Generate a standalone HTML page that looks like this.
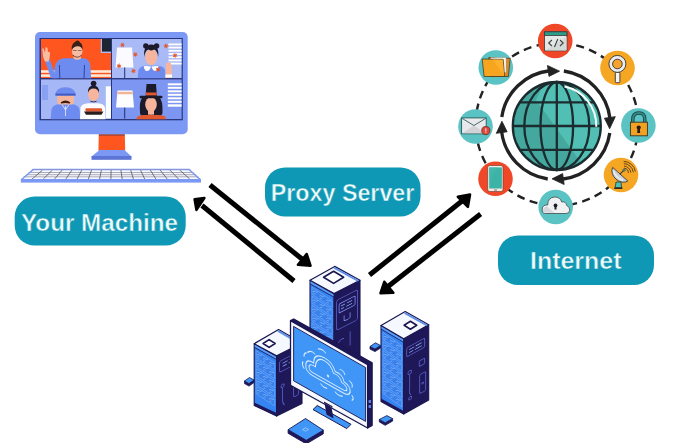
<!DOCTYPE html>
<html><head><meta charset="utf-8">
<style>
html,body{margin:0;padding:0;background:#fff;width:675px;height:443px;overflow:hidden}
svg{position:absolute;left:0;top:0;display:block}
.t{font-family:"Liberation Sans",sans-serif;font-weight:bold;fill:#effcfc;stroke:#0f98b5;stroke-width:0.5px}
</style></head><body>
<svg width="675" height="443" viewBox="0 0 675 443">
<!-- ============ LEFT MONITOR ============ -->
<g id="monitor">
  <rect x="35" y="32" width="152.7" height="102.3" rx="5" fill="#7b98f5"/>
  <rect x="39.5" y="38" width="143.3" height="82.3" fill="#28337a"/>
  <defs>
    <clipPath id="p1"><rect x="40.8" y="39" width="70.2" height="39.2"/></clipPath>
    <clipPath id="p2"><rect x="112" y="39" width="69.8" height="39.2"/></clipPath>
    <clipPath id="p3"><rect x="40.8" y="79.2" width="70.2" height="40"/></clipPath>
    <clipPath id="p4"><rect x="112" y="79.2" width="69.8" height="40"/></clipPath>
  </defs>
  <!-- panel 1 -->
  <g clip-path="url(#p1)">
    <rect x="40.8" y="39" width="70.2" height="39.2" fill="#ff5620"/>
    <rect x="100.8" y="39" width="10.5" height="14" fill="#aebcf5"/>
    <rect x="102" y="39" width="9.3" height="12.6" fill="#1b2634"/>
    <rect x="40.8" y="70.2" width="70.2" height="2.6" fill="#fde9d6"/>
    <rect x="40.8" y="74.3" width="70.2" height="2.6" fill="#fde9d6"/>
    <!-- man -->
    <path d="M53.5,80 L55,66 Q56.5,59 64,58.3 L84,58.3 Q89.8,59.3 90.4,66 L91.2,80 Z" fill="#6e8cf0"/>
    <path d="M45,60.5 L49.8,59.5 L57,80 L51.5,80 Z" fill="#6e8cf0"/>
    <path d="M42.5,51 Q41.5,47.5 43.5,48.5 L45,53 L45.5,47.5 Q47,46.5 47.5,48.5 L48,52.5 Q49.5,51 50,53 Q50,58 48.5,61.5 L45,61.5 Q42.5,57 42.5,51 Z" fill="#f6bda5"/>
    <path d="M73.5,58.5 L74,55 L80.5,55 L81,58.5 Q77.3,61 73.5,58.5 Z" fill="#f6bda5"/>
    <ellipse cx="77.2" cy="51.3" rx="5.2" ry="6.6" fill="#f6bda5"/>
    <path d="M72.8,55 Q77.2,59.5 81.6,55" stroke="#4a2a22" stroke-width="0.8" fill="none"/>
    <path d="M71.8,50 Q71,42.5 77,41.6 Q83.3,42 82.6,50 Q81.5,46.5 78,46.3 Q74,46 71.8,50 Z" fill="#3b2119"/>
    <circle cx="77.5" cy="42.6" r="2.2" fill="#3b2119"/>
    <path d="M72.8,50.5 h3.8 M77.8,50.5 h3.8" stroke="#6a4a40" stroke-width="0.7" fill="none"/>
    <path d="M59.4,65 L59.8,78 M84.5,65 L84,78" stroke="#2a3b8a" stroke-width="0.9" fill="none"/>
  </g>
  <!-- panel 2 -->
  <g clip-path="url(#p2)">
    <rect x="112" y="39" width="69.8" height="39.2" fill="#a9baf7"/>
    <g fill="#fdfdfe">
      <rect x="168.5" y="43.5" width="13.3" height="1.8"/><rect x="168.5" y="46.7" width="13.3" height="1.8"/>
      <rect x="168.5" y="49.9" width="13.3" height="1.8"/><rect x="168.5" y="53.1" width="13.3" height="1.8"/>
      <rect x="168.5" y="56.3" width="13.3" height="1.8"/><rect x="168.5" y="59.5" width="13.3" height="1.8"/>
      <rect x="168.5" y="62.7" width="13.3" height="1.8"/>
    </g>
    <path d="M117,47.5 L132,47.5 L133.5,67.5 L115.5,67.5 Z" fill="#fbfbff"/>
    <rect x="124.2" y="67.5" width="1" height="11" fill="#26306e"/>
    <path d="M137.5,80 L138.5,70 Q140,66 146,65.8 L157,65.8 Q164,66 165,70 L166,80 Z" fill="#6e8cf0"/>
    <ellipse cx="151.2" cy="57" rx="6" ry="8" fill="#f6b59c"/>
    <path d="M144.2,57 Q143,45.2 151.2,44.6 Q159.4,45.2 158.2,57 Q157.5,50.5 154,49.5 Q151.2,51.5 148.5,49.5 Q145,50.5 144.2,57 Z" fill="#1d1b2b"/>
    <circle cx="145.8" cy="46" r="2.7" fill="#1d1b2b"/>
    <circle cx="156.6" cy="46" r="2.7" fill="#1d1b2b"/>
    <path d="M143.8,66.2 Q147,65.5 151,66.5 Q149.5,71.5 146.5,71 Q144,70 143.8,66.2 Z" fill="#fdfdff"/>
    <path d="M158.6,66.2 Q155.4,65.5 151.4,66.5 Q152.9,71.5 155.9,71 Q158.4,70 158.6,66.2 Z" fill="#fdfdff"/>
    <path d="M165.5,78 L166,64 Q168,61 170.5,62.5 L172,68 L171.5,78 Z" fill="#f6b59c"/>
    <rect x="165.5" y="74.5" width="6.5" height="3" fill="#fff"/>
    <g fill="#e2582f">
      <polygon points="125.4,45.0 123.6,45.6 124.0,47.5 122.5,46.3 121.0,47.5 121.4,45.6 119.6,45.0 121.4,44.4 121.0,42.5 122.5,43.7 124.0,42.5 123.6,44.4"/>
      <polygon points="138.1,55.3 136.2,55.5 136.0,57.3 134.9,55.7 133.2,56.5 134.0,54.8 132.5,53.7 134.4,53.5 134.6,51.7 135.7,53.3 137.4,52.5 136.6,54.2"/>
      <polygon points="121.4,67.6 119.6,67.2 118.8,68.9 118.3,67.1 116.4,67.3 117.7,65.9 116.6,64.4 118.4,64.8 119.2,63.1 119.7,64.9 121.6,64.7 120.3,66.1"/>
      <polygon points="135.3,73.3 133.7,72.3 132.5,73.7 132.5,71.8 130.6,71.5 132.3,70.5 131.7,68.7 133.3,69.7 134.5,68.3 134.5,70.2 136.4,70.5 134.7,71.5"/>
      <polygon points="167.1,48.7 165.8,47.3 164.2,48.3 164.8,46.5 163.1,45.6 165.0,45.2 164.9,43.3 166.2,44.7 167.8,43.7 167.2,45.5 168.9,46.4 167.0,46.8"/>
      <polygon points="175.3,58.4 174.5,56.7 172.6,57.2 173.7,55.6 172.4,54.3 174.3,54.4 174.7,52.6 175.5,54.3 177.4,53.8 176.3,55.4 177.6,56.7 175.7,56.6"/>
      <polygon points="157.4,72.3 157.1,70.5 155.2,70.4 156.7,69.2 155.8,67.6 157.6,68.3 158.6,66.7 158.9,68.5 160.8,68.6 159.3,69.8 160.2,71.4 158.4,70.7"/>
    </g>
  </g>
  <!-- panel 3 -->
  <g clip-path="url(#p3)">
    <rect x="40.8" y="79.2" width="70.2" height="40" fill="#a6b7f6"/>
    <rect x="42" y="85" width="6" height="15" fill="#8aa0f2"/>
    <rect x="105.8" y="86.3" width="5.2" height="32" fill="#fbfcff"/>
    <path d="M50.5,120 L51.5,109 Q53,104.5 60,104.3 L71,104.3 Q78,104.5 79.5,109 L80.5,120 Z" fill="#6e8cf0"/>
    <path d="M62,104.5 L65.5,110 L69,104.5" stroke="#e8eeff" stroke-width="0.8" fill="none"/>
    <path d="M65.5,106 L65.5,116" stroke="#e8eeff" stroke-width="0.8"/>
    <rect x="57.2" y="93" width="16.8" height="11.5" rx="3" fill="#f6b59c"/>
    <path d="M55.2,95.5 Q55.5,87.5 65.5,87.3 Q75.5,87.5 75.8,95.5 Z" fill="#6e8cf0"/>
    <rect x="55.5" y="93.6" width="20" height="2" fill="#3f5bc4"/>
    <path d="M61,103 Q65.5,99.5 70,103 Q65.5,101.5 61,103 Z" stroke="#3a1d14" stroke-width="1.3" fill="#3a1d14"/>
    <path d="M80,120 L80.5,107.5 Q82,103.5 88,103.2 L98,103.2 Q104,103.5 105,107.5 L105.5,120 Z" fill="#fdfdff"/>
    <ellipse cx="93.5" cy="94" rx="5.6" ry="7" fill="#f6b59c"/>
    <path d="M88,93 Q87.5,85.5 93.5,85.5 Q99.5,85.5 99,93 Q98,88.5 93.5,88.5 Q89,88.5 88,93 Z" fill="#1d1b2b"/>
    <circle cx="93.6" cy="83.6" r="2.8" fill="#1d1b2b"/>
    <path d="M90.5,101.3 Q93.5,102.5 96.5,101.3" stroke="#1d1b2b" stroke-width="0.8" fill="none"/>
    <rect x="85.5" y="108.2" width="16.5" height="3.5" rx="1" fill="#e2582f"/>
    <path d="M84,111.5 L103.5,111.5 L101.5,114.8 L86,114.8 Z" fill="#2a1c1c"/>
  </g>
  <!-- panel 4 -->
  <g clip-path="url(#p4)">
    <rect x="112" y="79.2" width="69.8" height="40" fill="#7d96f1"/>
    <g fill="#fdfdfe">
      <rect x="167.8" y="83.3" width="14" height="2"/><rect x="167.8" y="86.8" width="14" height="2"/>
      <rect x="167.8" y="90.3" width="14" height="2"/><rect x="167.8" y="93.8" width="14" height="2"/>
      <rect x="167.8" y="97.3" width="14" height="2"/><rect x="167.8" y="100.8" width="14" height="2"/>
      <rect x="167.8" y="104.3" width="14" height="2.4"/>
    </g>
    <path d="M117.5,90.5 L132.5,90.5 L134,107.6 L116,107.6 Z" fill="#fdfdff"/>
    <rect x="117.4" y="91.8" width="15.3" height="2.4" fill="#f3b394"/>
    <rect x="124.2" y="107.6" width="1" height="11" fill="#26306e"/>
    <path d="M140,113 Q139,100 143,97 L159,97 Q163,100 162.5,113 Q162,116 158,116 L144,116 Q140,116 140,113 Z" fill="#1d1b2b"/>
    <rect x="148" y="108" width="6" height="8" fill="#f6b59c"/>
    <ellipse cx="151" cy="104.5" rx="5.8" ry="7.6" fill="#f6b59c"/>
    <path d="M148.5,114.5 Q151,116 153.5,114.5" stroke="#1d1b2b" stroke-width="0.6" fill="none"/>
    <path d="M145.5,98 L146.5,84 L156,84 L157,98 Z" fill="#1d1b2b"/>
    <rect x="145.7" y="92.5" width="11" height="3" fill="#e2582f"/>
    <rect x="139.5" y="95.8" width="23" height="2.4" rx="1.2" fill="#1d1b2b"/>
    <path d="M136,120 L137,117 Q139,115 144,115 L158,115 Q164,115 165.5,117 L166,120 Z" fill="#e2582f"/>
  </g>
</g>
<!-- stand -->
<polygon points="98.8,134.5 124.8,134.5 125.2,150.5 98.4,150.5" fill="#ff5620"/>
<rect x="98.8" y="134.4" width="26" height="1.1" fill="#6a3a4a"/>
<polygon points="99.5,150 124.5,150 131.5,156.5 91.5,156.5" fill="#7b98f5"/>
<rect x="91.5" y="156" width="40" height="3.8" fill="#5d74d6"/>
<!-- keyboard -->
<g id="kbd">
  <polygon points="32.8,169 189.5,169 201,179.2 20.8,179.2" fill="#f7f8ff"/>
  <line x1="28.7" y1="172.5" x2="193.4" y2="172.5" stroke="#8a8a95" stroke-width="0.7"/>
  <line x1="26.1" y1="174.7" x2="195.9" y2="174.7" stroke="#8a8a95" stroke-width="0.7"/>
  <line x1="23.6" y1="176.8" x2="198.3" y2="176.8" stroke="#8a8a95" stroke-width="0.7"/>
  <line x1="42.6" y1="170" x2="32.1" y2="179" stroke="#55555f" stroke-width="0.8"/>
  <line x1="52.4" y1="170" x2="43.3" y2="179" stroke="#55555f" stroke-width="0.8"/>
  <line x1="62.2" y1="170" x2="54.6" y2="179" stroke="#55555f" stroke-width="0.8"/>
  <line x1="72.0" y1="170" x2="65.8" y2="179" stroke="#55555f" stroke-width="0.8"/>
  <line x1="81.8" y1="170" x2="77.1" y2="179" stroke="#55555f" stroke-width="0.8"/>
  <line x1="91.6" y1="170" x2="88.4" y2="179" stroke="#55555f" stroke-width="0.8"/>
  <line x1="101.4" y1="170" x2="99.6" y2="179" stroke="#55555f" stroke-width="0.8"/>
  <line x1="111.1" y1="170" x2="110.9" y2="179" stroke="#55555f" stroke-width="0.8"/>
  <line x1="120.9" y1="170" x2="122.2" y2="179" stroke="#55555f" stroke-width="0.8"/>
  <line x1="130.7" y1="170" x2="133.4" y2="179" stroke="#55555f" stroke-width="0.8"/>
  <line x1="140.5" y1="170" x2="144.7" y2="179" stroke="#55555f" stroke-width="0.8"/>
  <line x1="150.3" y1="170" x2="155.9" y2="179" stroke="#55555f" stroke-width="0.8"/>
  <line x1="160.1" y1="170" x2="167.2" y2="179" stroke="#55555f" stroke-width="0.8"/>
  <line x1="169.9" y1="170" x2="178.5" y2="179" stroke="#55555f" stroke-width="0.8"/>
  <line x1="179.7" y1="170" x2="189.7" y2="179" stroke="#55555f" stroke-width="0.8"/>
  <polygon points="32.8,168.8 189.5,168.8 190.8,170.2 31.3,170.2" fill="#8595de"/>
  <polygon points="32.8,169 20.8,179.2 23,179.2 34,169.8" fill="#7b98f5"/>
  <polygon points="189.5,169 201,179.2 198.8,179.2 188.3,169.8" fill="#7b98f5"/>
  <rect x="20.8" y="179" width="180.2" height="3.6" fill="#7b98f5"/>
</g>

<!-- ============ PILLS ============ -->
<rect x="14.7" y="196.6" width="171" height="49" rx="20" fill="#0f98b5"/>
<text class="t" x="21" y="230.6" font-size="24.3" textLength="157" lengthAdjust="spacingAndGlyphs">Your Machine</text>
<rect x="265" y="167.5" width="155.5" height="49" rx="20" fill="#0f98b5"/>
<text class="t" x="270.8" y="201.2" font-size="24.3" textLength="143.5" lengthAdjust="spacingAndGlyphs">Proxy Server</text>
<rect x="498" y="235.5" width="156" height="49.5" rx="20" fill="#0f98b5"/>
<text class="t" x="530" y="269.2" font-size="24.3" textLength="91.5" lengthAdjust="spacingAndGlyphs">Internet</text>

<!-- ============ ARROWS ============ -->
<g stroke="#000" stroke-width="5" fill="none" stroke-linecap="butt">
  <line x1="210" y1="185" x2="302" y2="259"/>
  <line x1="294" y1="281" x2="202" y2="205.5"/>
  <line x1="369.5" y1="275" x2="462" y2="201"/>
  <line x1="480.6" y1="214" x2="388" y2="286.5"/>
</g>
<g fill="#000" stroke="#000" stroke-width="2.6" stroke-linejoin="round">
  <polygon points="306.69,254.04 297.98,264.72 310.47,265.71"/>
  <polygon points="194.63,199.29 204.36,198.02 196.45,209.88"/>
  <polygon points="470.01,194.50 457.84,196.80 467.88,206.84"/>
  <polygon points="380.52,293.16 384.30,281.82 393.34,292.75"/>
</g>

<!-- ============ GLOBE ============ -->
<g id="globe">
<circle cx="557" cy="124.3" r="81.3" fill="none" stroke="#222" stroke-width="2.4" stroke-dasharray="8 5.4"/>
<circle cx="556.8" cy="126" r="44" fill="#52bfb5"/>
<clipPath id="gclip"><circle cx="556.8" cy="126" r="44"/></clipPath>
<g clip-path="url(#gclip)"><polygon points="505,75 548,75 536,100 590,175 505,175" fill="#45a89f"/></g>
<g fill="none" stroke="#1b2b2e" stroke-width="2.3">
<circle cx="556.8" cy="126" r="44"/>
<line x1="519.73" y1="102.3" x2="593.87" y2="102.3"/>
<line x1="512.80" y1="126" x2="600.80" y2="126"/>
<line x1="519.79" y1="149.8" x2="593.81" y2="149.8"/>
<line x1="556.8" y1="82" x2="556.8" y2="170"/>
<ellipse cx="556.8" cy="126" rx="16.3" ry="44"/>
<ellipse cx="556.8" cy="126" rx="32.5" ry="44"/>
</g>
<path d="M564.49,86.44 A40,40 0 0 1 596.29,126.69" fill="none" stroke="#f4fffd" stroke-width="2"/>
<path d="M501.80,116.93 A54.6,54.6 0 0 1 549.62,70.75" fill="none" stroke="#222" stroke-width="3.3"/>
<polygon points="548.97,76.38 547.44,65.48 559.57,71.13" fill="#222" stroke="#222" stroke-width="0.8" stroke-linejoin="round"/>
<path d="M563.87,71.00 A54.6,54.6 0 0 1 610.05,118.82" fill="none" stroke="#222" stroke-width="3.3"/>
<polygon points="604.42,118.17 615.32,116.64 609.67,128.77" fill="#222" stroke="#222" stroke-width="0.8" stroke-linejoin="round"/>
<path d="M609.80,133.07 A54.6,54.6 0 0 1 561.98,179.25" fill="none" stroke="#222" stroke-width="3.3"/>
<polygon points="562.63,173.62 564.16,184.52 552.03,178.87" fill="#222" stroke="#222" stroke-width="0.8" stroke-linejoin="round"/>
<path d="M547.73,179.00 A54.6,54.6 0 0 1 501.55,131.18" fill="none" stroke="#222" stroke-width="3.3"/>
<polygon points="507.18,131.83 496.28,133.36 501.93,121.23" fill="#222" stroke="#222" stroke-width="0.8" stroke-linejoin="round"/>
</g>
<!-- icon circles -->
<g id="icons">
  <!-- 1 code window -->
  <g transform="translate(555.2,41)">
    <circle r="17.3" fill="#ef4727"/>
    <rect x="-10.6" y="-9.2" width="22.3" height="19" fill="#e4e9e7" stroke="#3b3b3b" stroke-width="0.8"/>
    <polygon points="-10.2,9.5 11.3,-4 11.3,9.5" fill="#d3dad8"/>
    <rect x="-10.6" y="-9.2" width="22.3" height="3.8" fill="#2d9c8b" stroke="#3b3b3b" stroke-width="0.8"/>
    <path d="M-3.3,-1 L-6.5,2 L-3.3,5 M4.8,-1 L8,2 L4.8,5 M2.6,-2 L-0.7,6" fill="none" stroke="#404040" stroke-width="1.1"/>
  </g>
  <!-- 2 magnifier -->
  <g transform="translate(617.5,68)">
    <circle r="17.3" fill="#f5a623"/>
    <rect x="-2.2" y="4.4" width="4.6" height="10.3" rx="1" fill="#f4f4f4" stroke="#333" stroke-width="0.9"/>
    <circle cx="-0.1" cy="-4.1" r="8.5" fill="#ececef" stroke="#333" stroke-width="0.9"/>
    <circle cx="-0.1" cy="-4" r="4.8" fill="#f5a32a" stroke="#333" stroke-width="0.9"/>
  </g>
  <!-- 3 lock -->
  <g transform="translate(638.4,125.5)">
    <circle r="17.3" fill="#5cc3c4"/>
    <path d="M-5.6,-3 L-5.6,-6 Q-5.6,-12.5 0.5,-12.5 Q6.4,-12.5 6.4,-6 L6.4,-3" fill="none" stroke="#213b3b" stroke-width="3.4"/>
    <path d="M-5.6,-3 L-5.6,-6 Q-5.6,-12.5 0.5,-12.5 Q6.4,-12.5 6.4,-6 L6.4,-3" fill="none" stroke="#2d8b87" stroke-width="1.8"/>
    <rect x="-8" y="-3.3" width="17" height="13.6" fill="#f2a223" stroke="#3a3322" stroke-width="0.9"/>
    <circle cx="0.3" cy="2" r="2.1" fill="#2a1a14"/>
    <path d="M-0.8,2.5 L1.4,2.5 L1.8,7.6 L-1.2,7.6 Z" fill="#2a1a14"/>
  </g>
  <!-- 4 satellite -->
  <g transform="translate(621,175)">
    <circle r="17.3" fill="#f5a623"/>
    <g fill="none" stroke="#6a4518" stroke-width="1" stroke-linecap="round">
      <path d="M3.6,-6.8 A4.5,4.5 0 0 1 7.4,-2.4"/>
      <path d="M3.4,-9 A7,7 0 0 1 9.8,-2.8"/>
      <path d="M3.2,-11.4 A9.3,9.3 0 0 1 12.2,-3.2"/>
      <path d="M3,-13.6 A11.5,11.5 0 0 1 14.3,-3.8"/>
    </g>
    <path d="M-5.8,12.8 L-5,7 L0,7 L0.6,12.8 Z" fill="#4cc1b5" stroke="#2c3a3a" stroke-width="0.8"/>
    <rect x="-6.8" y="12.4" width="8.2" height="1.6" fill="#2e2a26"/>
    <path d="M-8.3,-7.6 A10.3,7.8 42 0 0 6.8,6 Z" fill="#cfd1d8" stroke="#3a3a3a" stroke-width="0.9" stroke-linejoin="round"/>
    <path d="M-7.5,-4.5 A9,5.5 42 0 0 2,5.2" fill="none" stroke="#eceef2" stroke-width="1.4"/>
    <path d="M-1.3,-0.6 L2.8,-4.6" stroke="#3a3a3a" stroke-width="1.1"/>
    <circle cx="3.1" cy="-5" r="1.2" fill="#4cc1b5" stroke="#333" stroke-width="0.6"/>
  </g>
  <!-- 5 cloud -->
  <g transform="translate(555.7,207)">
    <circle r="17.3" fill="#5cc3c4"/>
    <path d="M-10,6.5 Q-14,6.5 -13.5,2 Q-13,-2.5 -8,-2 Q-8,-9.5 -1,-10 Q4.5,-10 6,-5 Q10,-6 11,-1.5 Q14.5,0 14,3.5 Q13.5,6.5 10.5,6.5 Z" fill="#f1f1f4" stroke="#3f4a4a" stroke-width="0.8"/>
    <path d="M-12.6,5.3 Q-13.5,1 -9,-0.8 L-1,6 Z" fill="#d6d7dd"/>
    <circle cx="-0.2" cy="-1.5" r="1.9" fill="#1f1f22"/>
    <path d="M-1,-1 L0.6,-1 L0.8,2.6 L-1.2,2.6 Z" fill="#1f1f22"/>
  </g>
  <!-- 6 phone -->
  <g transform="translate(495.5,178.8)">
    <circle r="17.3" fill="#ef4727"/>
    <rect x="-7.8" y="-13.3" width="15.3" height="26" rx="2" fill="#f6e9e2" stroke="#5b3a30" stroke-width="0.6"/>
    <rect x="-6.3" y="-11.4" width="12.7" height="21.1" fill="#3bb3a6"/>
    <polygon points="-6.3,-11.4 2,-11.4 -6.3,2" fill="#47b9ae" opacity="0.7"/>
    <rect x="-1.5" y="10.6" width="3" height="1.3" fill="#9a8a88"/>
  </g>
  <!-- 7 mail -->
  <g transform="translate(475.5,126.5)">
    <circle r="17.3" fill="#5cc3c4"/>
    <rect x="-13.9" y="-8.6" width="24.6" height="15.9" fill="#e9e9ec" stroke="#1f5a58" stroke-width="0.9"/>
    <polygon points="-13.4,6.8 -1.6,-1 10.2,6.8" fill="#d2d2d7"/>
    <path d="M-13.4,-8.1 L-1.6,-1 L10.2,-8.1" fill="none" stroke="#2f5f5d" stroke-width="0.9"/>
    <circle cx="10.3" cy="4.1" r="4.1" fill="#e0463a" stroke="#5a2520" stroke-width="0.7"/>
    <rect x="9.9" y="1.8" width="0.9" height="3.2" fill="#fff"/>
    <rect x="9.9" y="5.7" width="0.9" height="0.9" fill="#fff"/>
  </g>
  <!-- 8 folder -->
  <g transform="translate(495.8,67.5)">
    <circle r="17.3" fill="#5cc3c4"/>
    <path d="M-7,-10 L-1,-10 L0,-9.2 L14.4,-9.2 L12.6,9 L-6,9 Z" fill="#d98b2b" stroke="#4a3a22" stroke-width="0.8"/>
    <rect x="-5" y="-10" width="15.3" height="15" fill="#f8f4ec" stroke="#9a8a70" stroke-width="0.4"/>
    <path d="M-13.6,-8.5 L7.4,-8.1 L8.7,9 L-11.7,9 Z" fill="#f7a51f" stroke="#4a3a22" stroke-width="0.8"/>
    <polygon points="-3,-7.9 7,-7.7 8.2,8.5" fill="#fbb12e"/>
</g>
</g>

<!-- ============ SERVERS ============ -->
<g id="servers">
<polygon points="310.0,280.3 334.1,293.6 334.1,403.6 310.0,390.3" fill="#3584f1" stroke="#1a1650" stroke-width="1.1" stroke-linejoin="round"/>
<polygon points="334.1,293.6 360.0,280.3 360.0,356.3 334.1,403.6" fill="#1f1858" stroke="#1a1650" stroke-width="1.1" stroke-linejoin="round"/>
<polygon points="310.0,387.3 334.1,400.6 334.1,403.6 310.0,390.3" fill="#1f1858"/>
<polygon points="310.6,281.1 333.5,294.4 333.5,296.8 310.6,283.5" fill="#5b9cf6"/>
<line x1="310" y1="283.90000000000003" x2="334.1" y2="297.20000000000005" stroke="#1a1650" stroke-width="0.8"/>
<polygon points="312.0,287.3 332.1,300.6 332.1,307.6 312.0,294.3" fill="#3a80ea" stroke="#7fb4ff" stroke-width="0.6" opacity="0.9"/>
<path d="M312.9,291.7 q1.2,-1.2 2.5,0 t2.5,0 M313.4,294.1 q1,-1 2,0" fill="none" stroke="#9cc8ff" stroke-width="0.6"/>
<path d="M319.6,296.2 q1.2,-1.2 2.5,0 t2.5,0 M320.1,298.6 q1,-1 2,0" fill="none" stroke="#9cc8ff" stroke-width="0.6"/>
<path d="M326.2,300.6 q1.2,-1.2 2.5,0 t2.5,0 M326.8,303.0 q1,-1 2,0" fill="none" stroke="#9cc8ff" stroke-width="0.6"/>
<polygon points="312.0,296.3 332.1,309.6 332.1,316.6 312.0,303.3" fill="#3a80ea" stroke="#7fb4ff" stroke-width="0.6" opacity="0.9"/>
<path d="M312.9,300.7 q1.2,-1.2 2.5,0 t2.5,0 M313.4,303.1 q1,-1 2,0" fill="none" stroke="#9cc8ff" stroke-width="0.6"/>
<path d="M319.6,305.2 q1.2,-1.2 2.5,0 t2.5,0 M320.1,307.6 q1,-1 2,0" fill="none" stroke="#9cc8ff" stroke-width="0.6"/>
<path d="M326.2,309.6 q1.2,-1.2 2.5,0 t2.5,0 M326.8,312.0 q1,-1 2,0" fill="none" stroke="#9cc8ff" stroke-width="0.6"/>
<polygon points="312.0,305.3 332.1,318.6 332.1,325.6 312.0,312.3" fill="#3a80ea" stroke="#7fb4ff" stroke-width="0.6" opacity="0.9"/>
<path d="M312.9,309.7 q1.2,-1.2 2.5,0 t2.5,0 M313.4,312.1 q1,-1 2,0" fill="none" stroke="#9cc8ff" stroke-width="0.6"/>
<path d="M319.6,314.2 q1.2,-1.2 2.5,0 t2.5,0 M320.1,316.6 q1,-1 2,0" fill="none" stroke="#9cc8ff" stroke-width="0.6"/>
<path d="M326.2,318.6 q1.2,-1.2 2.5,0 t2.5,0 M326.8,321.0 q1,-1 2,0" fill="none" stroke="#9cc8ff" stroke-width="0.6"/>
<polygon points="312.0,314.3 332.1,327.6 332.1,334.6 312.0,321.3" fill="#3a80ea" stroke="#7fb4ff" stroke-width="0.6" opacity="0.9"/>
<path d="M312.9,318.7 q1.2,-1.2 2.5,0 t2.5,0 M313.4,321.1 q1,-1 2,0" fill="none" stroke="#9cc8ff" stroke-width="0.6"/>
<path d="M319.6,323.2 q1.2,-1.2 2.5,0 t2.5,0 M320.1,325.6 q1,-1 2,0" fill="none" stroke="#9cc8ff" stroke-width="0.6"/>
<path d="M326.2,327.6 q1.2,-1.2 2.5,0 t2.5,0 M326.8,330.0 q1,-1 2,0" fill="none" stroke="#9cc8ff" stroke-width="0.6"/>
<polygon points="312.0,323.3 332.1,336.6 332.1,343.6 312.0,330.3" fill="#3a80ea" stroke="#7fb4ff" stroke-width="0.6" opacity="0.9"/>
<path d="M312.9,327.7 q1.2,-1.2 2.5,0 t2.5,0 M313.4,330.1 q1,-1 2,0" fill="none" stroke="#9cc8ff" stroke-width="0.6"/>
<path d="M319.6,332.2 q1.2,-1.2 2.5,0 t2.5,0 M320.1,334.6 q1,-1 2,0" fill="none" stroke="#9cc8ff" stroke-width="0.6"/>
<path d="M326.2,336.6 q1.2,-1.2 2.5,0 t2.5,0 M326.8,339.0 q1,-1 2,0" fill="none" stroke="#9cc8ff" stroke-width="0.6"/>
<polygon points="312.0,332.3 332.1,345.6 332.1,352.6 312.0,339.3" fill="#3a80ea" stroke="#7fb4ff" stroke-width="0.6" opacity="0.9"/>
<path d="M312.9,336.7 q1.2,-1.2 2.5,0 t2.5,0 M313.4,339.1 q1,-1 2,0" fill="none" stroke="#9cc8ff" stroke-width="0.6"/>
<path d="M319.6,341.2 q1.2,-1.2 2.5,0 t2.5,0 M320.1,343.6 q1,-1 2,0" fill="none" stroke="#9cc8ff" stroke-width="0.6"/>
<path d="M326.2,345.6 q1.2,-1.2 2.5,0 t2.5,0 M326.8,348.0 q1,-1 2,0" fill="none" stroke="#9cc8ff" stroke-width="0.6"/>
<polygon points="312.0,341.3 332.1,354.6 332.1,361.6 312.0,348.3" fill="#3a80ea" stroke="#7fb4ff" stroke-width="0.6" opacity="0.9"/>
<path d="M312.9,345.7 q1.2,-1.2 2.5,0 t2.5,0 M313.4,348.1 q1,-1 2,0" fill="none" stroke="#9cc8ff" stroke-width="0.6"/>
<path d="M319.6,350.2 q1.2,-1.2 2.5,0 t2.5,0 M320.1,352.6 q1,-1 2,0" fill="none" stroke="#9cc8ff" stroke-width="0.6"/>
<path d="M326.2,354.6 q1.2,-1.2 2.5,0 t2.5,0 M326.8,357.0 q1,-1 2,0" fill="none" stroke="#9cc8ff" stroke-width="0.6"/>
<polygon points="312.0,350.3 332.1,363.6 332.1,370.6 312.0,357.3" fill="#3a80ea" stroke="#7fb4ff" stroke-width="0.6" opacity="0.9"/>
<path d="M312.9,354.7 q1.2,-1.2 2.5,0 t2.5,0 M313.4,357.1 q1,-1 2,0" fill="none" stroke="#9cc8ff" stroke-width="0.6"/>
<path d="M319.6,359.2 q1.2,-1.2 2.5,0 t2.5,0 M320.1,361.6 q1,-1 2,0" fill="none" stroke="#9cc8ff" stroke-width="0.6"/>
<path d="M326.2,363.6 q1.2,-1.2 2.5,0 t2.5,0 M326.8,366.0 q1,-1 2,0" fill="none" stroke="#9cc8ff" stroke-width="0.6"/>
<polygon points="312.0,359.3 332.1,372.6 332.1,379.6 312.0,366.3" fill="#3a80ea" stroke="#7fb4ff" stroke-width="0.6" opacity="0.9"/>
<path d="M312.9,363.7 q1.2,-1.2 2.5,0 t2.5,0 M313.4,366.1 q1,-1 2,0" fill="none" stroke="#9cc8ff" stroke-width="0.6"/>
<path d="M319.6,368.2 q1.2,-1.2 2.5,0 t2.5,0 M320.1,370.6 q1,-1 2,0" fill="none" stroke="#9cc8ff" stroke-width="0.6"/>
<path d="M326.2,372.6 q1.2,-1.2 2.5,0 t2.5,0 M326.8,375.0 q1,-1 2,0" fill="none" stroke="#9cc8ff" stroke-width="0.6"/>
<polygon points="312.0,368.3 332.1,381.6 332.1,388.6 312.0,375.3" fill="#3a80ea" stroke="#7fb4ff" stroke-width="0.6" opacity="0.9"/>
<path d="M312.9,372.7 q1.2,-1.2 2.5,0 t2.5,0 M313.4,375.1 q1,-1 2,0" fill="none" stroke="#9cc8ff" stroke-width="0.6"/>
<path d="M319.6,377.2 q1.2,-1.2 2.5,0 t2.5,0 M320.1,379.6 q1,-1 2,0" fill="none" stroke="#9cc8ff" stroke-width="0.6"/>
<path d="M326.2,381.6 q1.2,-1.2 2.5,0 t2.5,0 M326.8,384.0 q1,-1 2,0" fill="none" stroke="#9cc8ff" stroke-width="0.6"/>
<polygon points="312.0,377.3 332.1,390.6 332.1,397.6 312.0,384.3" fill="#3a80ea" stroke="#7fb4ff" stroke-width="0.6" opacity="0.9"/>
<path d="M312.9,381.7 q1.2,-1.2 2.5,0 t2.5,0 M313.4,384.1 q1,-1 2,0" fill="none" stroke="#9cc8ff" stroke-width="0.6"/>
<path d="M319.6,386.2 q1.2,-1.2 2.5,0 t2.5,0 M320.1,388.6 q1,-1 2,0" fill="none" stroke="#9cc8ff" stroke-width="0.6"/>
<path d="M326.2,390.6 q1.2,-1.2 2.5,0 t2.5,0 M326.8,393.0 q1,-1 2,0" fill="none" stroke="#9cc8ff" stroke-width="0.6"/>
<polygon points="334.7,266.4 310.0,280.3 334.1,293.6 360.0,280.3" fill="#f6f8ff" stroke="#1a1650" stroke-width="1.2" stroke-linejoin="round"/>
<polygon points="334.7,267.0 359.2,280.5 357.4,281.5 333.5,268.6" fill="#5d8ee8"/>
<polygon points="323.6,277.3 333.6,271.2 343.6,277.3 333.6,283.4" fill="#ffffff" stroke="#1a1650" stroke-width="1.6" stroke-linejoin="round"/>
<g transform="translate(334.1,293.6) skewY(-27.2)" fill="none" stroke="#5b62cc" stroke-width="0.8"><rect x="2.5" y="8" width="21" height="30" rx="2"/><rect x="5" y="13" width="16" height="9" rx="1" stroke="#7d8ef0"/><path d="M7,16 h4 M13,16 h5 M7,19 h3 M12,19 h6" stroke="#8fb0ff"/><path d="M10,27 v5 q3,2 6,0 v-5" stroke="#7d8ef0"/><path d="M4,52 q2,-4 6,-2 M16,46 v14" /></g>
<polygon points="254.2,343.7 276.6,355.9 276.6,416.1 254.2,405.4" fill="#3584f1" stroke="#1a1650" stroke-width="1.1" stroke-linejoin="round"/>
<polygon points="276.6,355.9 302.0,343.0 302.0,403.5 276.6,416.1" fill="#1f1858" stroke="#1a1650" stroke-width="1.1" stroke-linejoin="round"/>
<polygon points="254.2,402.4 276.6,413.1 276.6,416.1 254.2,405.4" fill="#1f1858"/>
<polygon points="254.8,344.5 276.0,356.7 276.0,359.1 254.8,346.9" fill="#5b9cf6"/>
<line x1="254.2" y1="347.3" x2="276.6" y2="359.5" stroke="#1a1650" stroke-width="0.8"/>
<polygon points="256.2,350.7 274.6,362.9 274.6,369.9 256.2,357.7" fill="#3a80ea" stroke="#7fb4ff" stroke-width="0.6" opacity="0.9"/>
<path d="M256.8,354.9 q1.2,-1.2 2.5,0 t2.5,0 M257.3,357.3 q1,-1 2,0" fill="none" stroke="#9cc8ff" stroke-width="0.6"/>
<path d="M262.9,359.0 q1.2,-1.2 2.5,0 t2.5,0 M263.4,361.4 q1,-1 2,0" fill="none" stroke="#9cc8ff" stroke-width="0.6"/>
<path d="M269.0,363.1 q1.2,-1.2 2.5,0 t2.5,0 M269.5,365.5 q1,-1 2,0" fill="none" stroke="#9cc8ff" stroke-width="0.6"/>
<polygon points="256.2,359.7 274.6,371.9 274.6,378.9 256.2,366.7" fill="#3a80ea" stroke="#7fb4ff" stroke-width="0.6" opacity="0.9"/>
<path d="M256.8,363.9 q1.2,-1.2 2.5,0 t2.5,0 M257.3,366.3 q1,-1 2,0" fill="none" stroke="#9cc8ff" stroke-width="0.6"/>
<path d="M262.9,368.0 q1.2,-1.2 2.5,0 t2.5,0 M263.4,370.4 q1,-1 2,0" fill="none" stroke="#9cc8ff" stroke-width="0.6"/>
<path d="M269.0,372.1 q1.2,-1.2 2.5,0 t2.5,0 M269.5,374.5 q1,-1 2,0" fill="none" stroke="#9cc8ff" stroke-width="0.6"/>
<polygon points="256.2,368.7 274.6,380.9 274.6,387.9 256.2,375.7" fill="#3a80ea" stroke="#7fb4ff" stroke-width="0.6" opacity="0.9"/>
<path d="M256.8,372.9 q1.2,-1.2 2.5,0 t2.5,0 M257.3,375.3 q1,-1 2,0" fill="none" stroke="#9cc8ff" stroke-width="0.6"/>
<path d="M262.9,377.0 q1.2,-1.2 2.5,0 t2.5,0 M263.4,379.4 q1,-1 2,0" fill="none" stroke="#9cc8ff" stroke-width="0.6"/>
<path d="M269.0,381.1 q1.2,-1.2 2.5,0 t2.5,0 M269.5,383.5 q1,-1 2,0" fill="none" stroke="#9cc8ff" stroke-width="0.6"/>
<polygon points="256.2,377.7 274.6,389.9 274.6,396.9 256.2,384.7" fill="#3a80ea" stroke="#7fb4ff" stroke-width="0.6" opacity="0.9"/>
<path d="M256.8,381.9 q1.2,-1.2 2.5,0 t2.5,0 M257.3,384.3 q1,-1 2,0" fill="none" stroke="#9cc8ff" stroke-width="0.6"/>
<path d="M262.9,386.0 q1.2,-1.2 2.5,0 t2.5,0 M263.4,388.4 q1,-1 2,0" fill="none" stroke="#9cc8ff" stroke-width="0.6"/>
<path d="M269.0,390.1 q1.2,-1.2 2.5,0 t2.5,0 M269.5,392.5 q1,-1 2,0" fill="none" stroke="#9cc8ff" stroke-width="0.6"/>
<polygon points="256.2,386.7 274.6,398.9 274.6,405.9 256.2,393.7" fill="#3a80ea" stroke="#7fb4ff" stroke-width="0.6" opacity="0.9"/>
<path d="M256.8,390.9 q1.2,-1.2 2.5,0 t2.5,0 M257.3,393.3 q1,-1 2,0" fill="none" stroke="#9cc8ff" stroke-width="0.6"/>
<path d="M262.9,395.0 q1.2,-1.2 2.5,0 t2.5,0 M263.4,397.4 q1,-1 2,0" fill="none" stroke="#9cc8ff" stroke-width="0.6"/>
<path d="M269.0,399.1 q1.2,-1.2 2.5,0 t2.5,0 M269.5,401.5 q1,-1 2,0" fill="none" stroke="#9cc8ff" stroke-width="0.6"/>
<polygon points="278.6,329.5 254.2,343.7 276.6,355.9 302.0,343.0" fill="#f6f8ff" stroke="#1a1650" stroke-width="1.2" stroke-linejoin="round"/>
<polygon points="278.6,330.1 301.2,343.2 299.4,344.2 277.4,331.7" fill="#5d8ee8"/>
<polygon points="263.1,343.5 269.1,339.6 275.1,343.5 269.1,347.4" fill="#ffffff" stroke="#1a1650" stroke-width="1.6" stroke-linejoin="round"/>
<g transform="translate(276.6,355.9) skewY(-27.3)" fill="none" stroke="#5b62cc" stroke-width="0.8"><rect x="3" y="7" width="20" height="11" rx="1.5"/><path d="M6,10.5 h5 M13,10.5 h6 M6,13.5 h4 M12,13.5 h6" stroke="#8fb0ff"/><circle cx="6" cy="33" r="1.6"/><path d="M6,35 v12 q0,4 2,6" /><rect x="17" y="32" width="5" height="18" rx="1.5"/></g>
<polygon points="381.0,325.5 403.7,338.7 403.7,414.0 381.0,401.4" fill="#3584f1" stroke="#1a1650" stroke-width="1.1" stroke-linejoin="round"/>
<polygon points="403.7,338.7 428.7,324.8 428.7,400.0 403.7,414.0" fill="#1f1858" stroke="#1a1650" stroke-width="1.1" stroke-linejoin="round"/>
<polygon points="381.0,398.4 403.7,411.0 403.7,414.0 381.0,401.4" fill="#1f1858"/>
<polygon points="381.6,326.3 403.1,339.5 403.1,341.9 381.6,328.7" fill="#5b9cf6"/>
<line x1="381" y1="329.1" x2="403.7" y2="342.3" stroke="#1a1650" stroke-width="0.8"/>
<polygon points="383.0,332.5 401.7,345.7 401.7,352.7 383.0,339.5" fill="#3a80ea" stroke="#7fb4ff" stroke-width="0.6" opacity="0.9"/>
<path d="M383.6,336.9 q1.2,-1.2 2.5,0 t2.5,0 M384.1,339.3 q1,-1 2,0" fill="none" stroke="#9cc8ff" stroke-width="0.6"/>
<path d="M389.9,341.3 q1.2,-1.2 2.5,0 t2.5,0 M390.4,343.7 q1,-1 2,0" fill="none" stroke="#9cc8ff" stroke-width="0.6"/>
<path d="M396.1,345.7 q1.2,-1.2 2.5,0 t2.5,0 M396.6,348.1 q1,-1 2,0" fill="none" stroke="#9cc8ff" stroke-width="0.6"/>
<polygon points="383.0,341.5 401.7,354.7 401.7,361.7 383.0,348.5" fill="#3a80ea" stroke="#7fb4ff" stroke-width="0.6" opacity="0.9"/>
<path d="M383.6,345.9 q1.2,-1.2 2.5,0 t2.5,0 M384.1,348.3 q1,-1 2,0" fill="none" stroke="#9cc8ff" stroke-width="0.6"/>
<path d="M389.9,350.3 q1.2,-1.2 2.5,0 t2.5,0 M390.4,352.7 q1,-1 2,0" fill="none" stroke="#9cc8ff" stroke-width="0.6"/>
<path d="M396.1,354.7 q1.2,-1.2 2.5,0 t2.5,0 M396.6,357.1 q1,-1 2,0" fill="none" stroke="#9cc8ff" stroke-width="0.6"/>
<polygon points="383.0,350.5 401.7,363.7 401.7,370.7 383.0,357.5" fill="#3a80ea" stroke="#7fb4ff" stroke-width="0.6" opacity="0.9"/>
<path d="M383.6,354.9 q1.2,-1.2 2.5,0 t2.5,0 M384.1,357.3 q1,-1 2,0" fill="none" stroke="#9cc8ff" stroke-width="0.6"/>
<path d="M389.9,359.3 q1.2,-1.2 2.5,0 t2.5,0 M390.4,361.7 q1,-1 2,0" fill="none" stroke="#9cc8ff" stroke-width="0.6"/>
<path d="M396.1,363.7 q1.2,-1.2 2.5,0 t2.5,0 M396.6,366.1 q1,-1 2,0" fill="none" stroke="#9cc8ff" stroke-width="0.6"/>
<polygon points="383.0,359.5 401.7,372.7 401.7,379.7 383.0,366.5" fill="#3a80ea" stroke="#7fb4ff" stroke-width="0.6" opacity="0.9"/>
<path d="M383.6,363.9 q1.2,-1.2 2.5,0 t2.5,0 M384.1,366.3 q1,-1 2,0" fill="none" stroke="#9cc8ff" stroke-width="0.6"/>
<path d="M389.9,368.3 q1.2,-1.2 2.5,0 t2.5,0 M390.4,370.7 q1,-1 2,0" fill="none" stroke="#9cc8ff" stroke-width="0.6"/>
<path d="M396.1,372.7 q1.2,-1.2 2.5,0 t2.5,0 M396.6,375.1 q1,-1 2,0" fill="none" stroke="#9cc8ff" stroke-width="0.6"/>
<polygon points="383.0,368.5 401.7,381.7 401.7,388.7 383.0,375.5" fill="#3a80ea" stroke="#7fb4ff" stroke-width="0.6" opacity="0.9"/>
<path d="M383.6,372.9 q1.2,-1.2 2.5,0 t2.5,0 M384.1,375.3 q1,-1 2,0" fill="none" stroke="#9cc8ff" stroke-width="0.6"/>
<path d="M389.9,377.3 q1.2,-1.2 2.5,0 t2.5,0 M390.4,379.7 q1,-1 2,0" fill="none" stroke="#9cc8ff" stroke-width="0.6"/>
<path d="M396.1,381.7 q1.2,-1.2 2.5,0 t2.5,0 M396.6,384.1 q1,-1 2,0" fill="none" stroke="#9cc8ff" stroke-width="0.6"/>
<polygon points="383.0,377.5 401.7,390.7 401.7,397.7 383.0,384.5" fill="#3a80ea" stroke="#7fb4ff" stroke-width="0.6" opacity="0.9"/>
<path d="M383.6,381.9 q1.2,-1.2 2.5,0 t2.5,0 M384.1,384.3 q1,-1 2,0" fill="none" stroke="#9cc8ff" stroke-width="0.6"/>
<path d="M389.9,386.3 q1.2,-1.2 2.5,0 t2.5,0 M390.4,388.7 q1,-1 2,0" fill="none" stroke="#9cc8ff" stroke-width="0.6"/>
<path d="M396.1,390.7 q1.2,-1.2 2.5,0 t2.5,0 M396.6,393.1 q1,-1 2,0" fill="none" stroke="#9cc8ff" stroke-width="0.6"/>
<polygon points="383.0,386.5 401.7,399.7 401.7,406.7 383.0,393.5" fill="#3a80ea" stroke="#7fb4ff" stroke-width="0.6" opacity="0.9"/>
<path d="M383.6,390.9 q1.2,-1.2 2.5,0 t2.5,0 M384.1,393.3 q1,-1 2,0" fill="none" stroke="#9cc8ff" stroke-width="0.6"/>
<path d="M389.9,395.3 q1.2,-1.2 2.5,0 t2.5,0 M390.4,397.7 q1,-1 2,0" fill="none" stroke="#9cc8ff" stroke-width="0.6"/>
<path d="M396.1,399.7 q1.2,-1.2 2.5,0 t2.5,0 M396.6,402.1 q1,-1 2,0" fill="none" stroke="#9cc8ff" stroke-width="0.6"/>
<polygon points="405.2,311.6 381.0,325.5 403.7,338.7 428.7,324.8" fill="#f6f8ff" stroke="#1a1650" stroke-width="1.2" stroke-linejoin="round"/>
<polygon points="405.2,312.2 427.9,325.0 426.1,326.0 404.0,313.8" fill="#5d8ee8"/>
<polygon points="404.1,325.3 410.4,321.3 416.7,325.3 410.4,329.3" fill="#ffffff" stroke="#1a1650" stroke-width="1.6" stroke-linejoin="round"/>
<g transform="translate(403.7,338.7) skewY(-29.1)" fill="none" stroke="#5b62cc" stroke-width="0.8"><rect x="3" y="11" width="18" height="9" rx="1.5"/><path d="M5.5,14 h5 M12,14 h6 M5.5,17 h4 M11,17 h7" stroke="#8fb0ff"/><rect x="15.5" y="31" width="5.5" height="5.5" rx="1"/><circle cx="6" cy="37" r="1.8"/><path d="M6,39 v13 q-1,5 1,8" /><circle cx="6.5" cy="63" r="1.5"/><rect x="16" y="45" width="6" height="19" rx="1.5"/><circle cx="19" cy="55" r="0.8"/></g>
<rect x="421" y="353" width="4" height="14" rx="1" transform="skewY(-29) " fill="none" stroke="#5a63c8" stroke-width="0" />
<polygon points="244.5,381.0 249.0,383.5 254.0,380.0 254.0,382.6 249.0,386.1 244.5,383.6" fill="#1f1858" stroke="#1a1650" stroke-width="0.8" stroke-linejoin="round"/>
<polygon points="244.5,381.0 249.5,377.5 254.0,380.0 249.0,383.5" fill="#3f96f6" stroke="#1a1650" stroke-width="0.8" stroke-linejoin="round"/>
<polygon points="370.0,346.5 375.0,349.0 380.5,345.5 380.5,348.1 375.0,351.6 370.0,349.1" fill="#1f1858" stroke="#1a1650" stroke-width="0.8" stroke-linejoin="round"/>
<polygon points="370.0,346.5 375.5,342.8 380.5,345.5 375.0,349.0" fill="#3f96f6" stroke="#1a1650" stroke-width="0.8" stroke-linejoin="round"/>
<polygon points="379.3,419.4 385.2,422.8 392.6,418.6 392.6,421.1 385.2,425.3 379.3,421.9" fill="#1f1858" stroke="#1a1650" stroke-width="0.8" stroke-linejoin="round"/>
<polygon points="379.3,419.4 386.9,415.6 392.6,418.6 385.2,422.8" fill="#3f96f6" stroke="#1a1650" stroke-width="0.8" stroke-linejoin="round"/>
<polygon points="290.5,320.6 293.8,318.9 372.2,362.8 372.2,425.5 367.6,428.0 367.6,364.6" fill="#1f1858" stroke="#1a1650" stroke-width="1.1" stroke-linejoin="round"/>
<polygon points="290.5,320.6 367.6,364.6 367.6,428.0 290.5,385.3" fill="#f6f8ff" stroke="#1a1650" stroke-width="1.3" stroke-linejoin="round"/>
<polygon points="293.6,326.4 365.6,367.5 365.6,421.4 293.6,380.8" fill="#3f96f6" stroke="#1a1650" stroke-width="0.9"/>
<g transform="translate(328,373.5) skewY(29.5) scale(1.2)" fill="none" stroke="#d8ecff" stroke-width="0.85" stroke-linecap="round">
  <path d="M-13,9 Q-19,9 -18.5,3 Q-18,-2.5 -12,-2 Q-12,-11 -3,-11.5 Q4,-11.5 6,-5 Q12,-6.5 13.5,-0.5 Q18.5,0 18.5,4.5 Q18,9 13,9 Z"/>
  <path d="M-12.5,6.5 Q-16,6.5 -15.8,3 Q-15.5,0 -10.5,0.3 Q-10,-8.5 -3,-9 Q2.5,-9 4.5,-2.8 Q10,-4 11.5,1 Q15.8,1.5 15.8,4.5 Q15.5,6.5 12.5,6.5 Z"/>
  <path d="M-17,-8 q3,-4 6,-2 M-20,-3 q0,-3 2,-4 M-8,-16 q3,-2 6,0 M10,-9 q3,-1 4,2 M18,-4 q3,1 2,4 M20,7 q2,2 0,4 M6,12 q3,2 6,0 M-6,12 q2,2 5,1 M-21,2 q-1,3 1,5"/>
  <circle cx="0" cy="2" r="0.6" fill="#d8ecff"/>
</g>
<rect x="368.6" y="400" width="2.4" height="3" fill="#5d7fe0"/><rect x="368.6" y="405" width="2.4" height="3" fill="#5d7fe0"/>
<polygon points="313.0,409.6 317.2,405.5 351.0,424.3 346.8,428.6" fill="#3f96f6" stroke="#1a1650" stroke-width="1" stroke-linejoin="round"/>
<polygon points="324.5,403.2 331.5,407.2 333.5,418.5 326.5,414.5" fill="#1f1858"/>
<polygon points="324.0,401.5 332.5,406.2 332.5,407.6 324.0,402.9" fill="#1a1650"/>
<polygon points="288.1,429.7 306.3,440.3 323.3,430.2 323.3,433.8 306.3,443.9 288.1,433.3" fill="#1f1858" stroke="#1a1650" stroke-width="0.9" stroke-linejoin="round"/>
<polygon points="288.1,429.7 305.5,418.5 323.3,430.2 306.3,440.3" fill="#3f96f6" stroke="#1a1650" stroke-width="0.9" stroke-linejoin="round"/>
<path d="M302.5,429.5 l3,-1.7 l3,1.7 l-3,1.7 z" fill="none" stroke="#a9cdfd" stroke-width="0.8"/>
</g>
</svg>
</body></html>
